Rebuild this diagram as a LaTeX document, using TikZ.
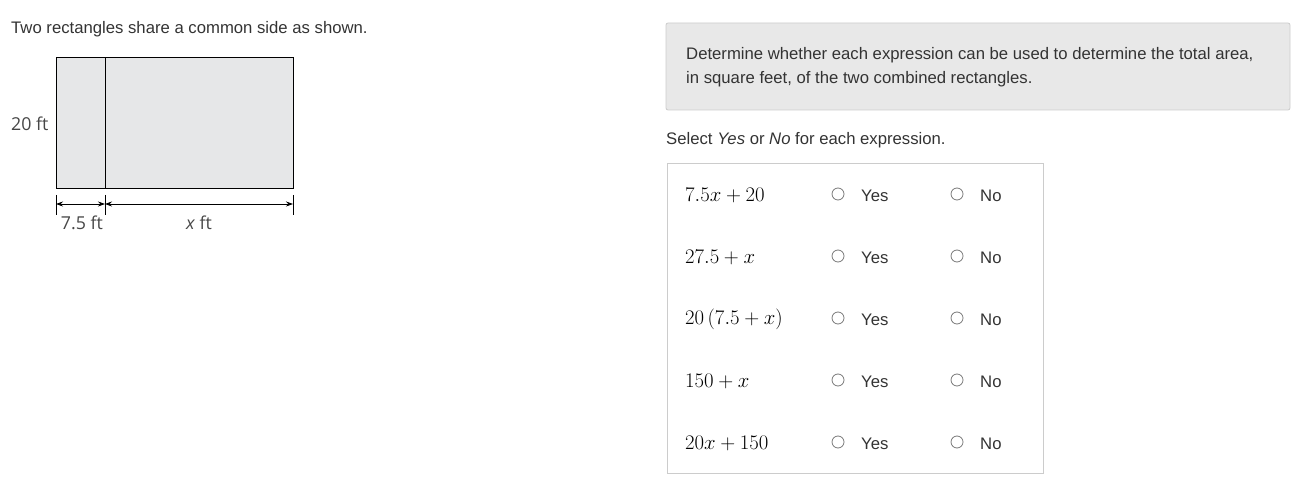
\documentclass[tikz,border=0pt]{standalone}
\usepackage{fontspec}
\setmainfont{Liberation Sans}
\newfontfamily\labfont{Open Sans}
\usetikzlibrary{arrows.meta}
\definecolor{txt}{HTML}{333333}
\definecolor{figgray}{HTML}{E6E7E8}
\definecolor{boxgray}{HTML}{E8E8E8}
\definecolor{bordergray}{HTML}{CCCCCC}
\definecolor{radiogray}{HTML}{777777}
\tikzset{
  plain/.style={font=\fontsize{16.7}{20}\selectfont, text=txt, inner sep=0pt},
  lab/.style={font=\labfont\fontsize{17.8}{21}\selectfont, text=txt!90!white, inner sep=0pt},
  expr/.style={font=\fontsize{21.3}{25}\selectfont, text=black, inner sep=0pt, anchor=west},
  radio/.style={circle, draw=radiogray, line width=0.8pt, minimum size=12pt, inner sep=0pt},
  opt/.style={font=\fontsize{16.7}{20}\selectfont, text=txt, inner sep=0pt, anchor=west},
  dimline/.style={line width=0.8pt},
  dimarrow/.style={line width=0.8pt, >={Stealth[length=7pt,width=5pt]}, <->},
}
\begin{document}
\begin{tikzpicture}[x=1pt,y=-1pt]
\useasboundingbox (0,0) rectangle (1293,502);
% left statement
\node[plain, anchor=west] (stmt) at (11,29.5) {Two rectangles share a common side as shown.};
% rectangles
\draw[fill=figgray, line width=1pt] (56,58) rectangle (293,189);
\draw[line width=1pt] (105,58) -- (105,189);
% dimension ticks
\coordinate (t1a) at (56,195); \coordinate (t1b) at (56,215);
\coordinate (t2a) at (105,195); \coordinate (t2b) at (105,215);
\coordinate (t3a) at (293,195); \coordinate (t3b) at (293,215);
\draw[dimline] (t1a) -- (t1b);
\draw[dimline] (t2a) -- (t2b);
\draw[dimline] (t3a) -- (t3b);
\coordinate (d1) at (56,204); \coordinate (d2) at (105,204); \coordinate (d3) at (293,204);
\draw[dimarrow] (d1) -- (d2);
\draw[dimarrow] (d2) -- (d3);
\node[lab, anchor=west] (h) at (11,124) {20 ft};
\node[lab] (w1) at (82,223) {7.5 ft};
\node[lab] (w2) at (199,223) {\textit{x} ft};
% instruction box
\draw[fill=boxgray, draw=bordergray, line width=0.8pt, rounded corners=2pt] (666,23) rectangle (1290,110);
\node[plain, anchor=west] (i1) at (686,55.5) {Determine whether each expression can be used to determine the total area,};
\node[plain, anchor=west] (i2) at (686,79.5) {in square feet, of the two combined rectangles.};
\node[plain, anchor=west] (sel) at (666,140.5) {Select \textit{Yes} or \textit{No} for each expression.};
% table
\draw[draw=bordergray, line width=0.8pt] (667,163) rectangle (1043,473);
\foreach \y/\e [count=\i] in {194/{$7.5x+20$}, 256/{$27.5+x$}, 318/{$20\left(7.5+x\right)$}, 380/{$150+x$}, 442/{$20x+150$}} {
  \node[expr] (e\i) at (685,\y+1) {\e};
  \node[radio] (ry\i) at (838,\y) {};
  \node[opt] (y\i) at (861,\y+1.5) {Yes};
  \node[radio] (rn\i) at (957,\y) {};
  \node[opt] (n\i) at (980,\y+1.5) {No};
}
\end{tikzpicture}
\end{document}
